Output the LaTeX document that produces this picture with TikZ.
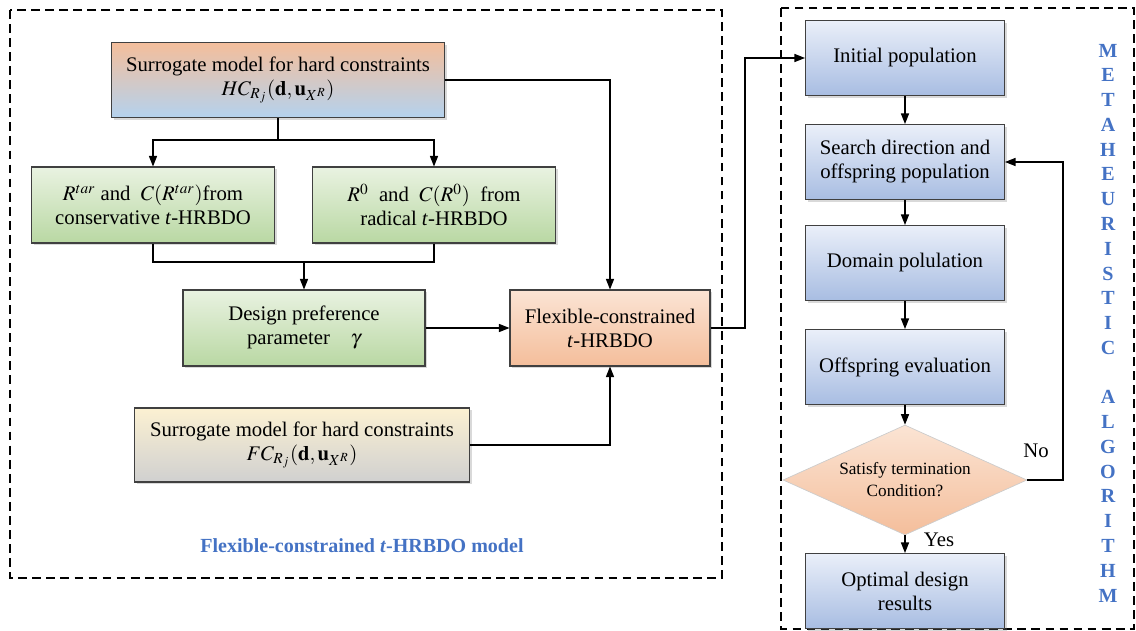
\documentclass[tikz,border=0pt]{standalone}
\usepackage{mathptmx}
\usepackage{fontspec}
\setmainfont{Liberation Serif}
\usepackage{tikz}
\usetikzlibrary{arrows.meta, positioning, calc, shapes.geometric, shadows}
\usepackage{xcolor}
\definecolor{metablue}{RGB}{68,114,196}
\definecolor{peach}{RGB}{244,190,155}
\definecolor{peachlight}{RGB}{251,228,212}
\definecolor{skyblue}{RGB}{180,210,238}
\definecolor{leaf}{RGB}{185,216,163}
\definecolor{leaflight}{RGB}{233,242,225}
\definecolor{steel}{RGB}{168,189,226}
\definecolor{steellight}{RGB}{234,239,249}
\definecolor{sand}{RGB}{252,241,210}
\definecolor{ash}{RGB}{208,208,208}

\tikzset{
  box/.style={draw=black!75, line width=0.6pt, align=center, inner sep=2pt,
    font=\fontsize{11.8}{13.7}\selectfont,
    drop shadow={shadow xshift=1.2pt, shadow yshift=-1.2pt, opacity=0.3}},
  hcbox/.style={box, top color=peach, bottom color=skyblue,
    minimum width=6.66cm, minimum height=1.5cm},
  greenbox/.style={box, top color=leaflight, bottom color=leaf,
    minimum width=4.86cm, minimum height=1.52cm},
  flexbox/.style={box, top color=peachlight, bottom color=peach,
    minimum width=4cm, minimum height=1.52cm},
  fcbox/.style={box, top color=sand, bottom color=ash,
    minimum width=6.7cm, minimum height=1.48cm},
  gabox/.style={box, top color=steellight, bottom color=steel,
    minimum width=3.98cm, minimum height=1.5cm},
  decision/.style={diamond, aspect=2.2, inner sep=0pt, draw=black!20,
    top color=peachlight, bottom color=peach, align=center,
    minimum width=4.88cm, minimum height=2.2cm,
    font=\fontsize{9.8}{12.5}\selectfont},
  arr/.style={-{Triangle[length=6pt,width=4.6pt]}, line width=0.7pt},
  link/.style={line width=0.7pt},
  frame/.style={line width=0.8pt, dash pattern=on 5pt off 3pt},
  bluetitle/.style={text=metablue, font=\bfseries\fontsize{11.4}{14.1}\selectfont, align=center},
}

\begin{document}
\begin{tikzpicture}[x=0.02cm, y=-0.02cm]
  \useasboundingbox (0,0) rectangle (1136,631);

  % Frames
  \draw[frame] (10,10) rectangle (722,578);
  \draw[frame] (781,8) rectangle (1134,629);

  % Flexible-constrained model
  \node[hcbox] (hc) at (278,80) {Surrogate model for hard constraints\\ $HC_{R_j}(\mathbf{d},\mathbf{u}_{X^R})$};
  \node[greenbox] (cons) at (153,205) {$R^{tar}$ and\ \ $C(R^{tar})$from\\ conservative \textit{t}-HRBDO};
  \node[greenbox] (rad) at (434,205) {$R^{0}$\ \ and\ \ $C(R^{0})$\ \ from\\ radical \textit{t}-HRBDO};
  \node[greenbox, minimum width=4.84cm] (pref) at (304,328) {Design preference\\ parameter\quad $\gamma$};
  \node[flexbox] (flex) at (610,328) {Flexible-constrained\\ \textit{t}-HRBDO};
  \node[fcbox] (fc) at (302,445) {Surrogate model for hard constraints\\ $FC_{R_j}(\mathbf{d},\mathbf{u}_{X^R})$};
  \node[bluetitle] (modeltitle) at (362,546) {Flexible-constrained \textit{t}-HRBDO model};

  \coordinate (hcsplit) at (278,140);
  \coordinate (merge) at (304,262);
  \draw[link] (hc.south) -- (hcsplit);
  \draw[arr] (hcsplit) -| (cons.north);
  \draw[arr] (hcsplit) -| (rad.north);
  \draw[link] (cons.south) |- (merge);
  \draw[link] (rad.south) |- (merge);
  \draw[arr] (merge) -- (pref.north);
  \draw[arr] (hc.east) -| (flex.north);
  \draw[arr] (pref.east) -- (flex.west);
  \draw[arr] (fc.east) -| (flex.south);

  % Metaheuristic loop
  \node[gabox] (init) at (905,58) {Initial population};
  \node[gabox] (search) at (905,162) {Search direction and\\ offspring population};
  \node[gabox] (domain) at (905,263) {Domain polulation};
  \node[gabox] (evalu) at (905,367) {Offspring evaluation};
  \node[decision] (cond) at (905,480) {Satisfy termination\\ Condition?};
  \node[gabox] (optim) at (905,591) {Optimal design\\ results};
  \node[bluetitle] (meta) at (1108,323) {M\\E\\T\\A\\H\\E\\U\\R\\I\\S\\T\\I\\C\\[14.1pt]A\\L\\G\\O\\R\\I\\T\\H\\M};

  \coordinate (bend) at (745,328);
  \coordinate (back) at (1063,480);
  \draw[arr] (flex.east) -- (bend) |- (init.west);
  \draw[arr] (init) -- (search);
  \draw[arr] (search) -- (domain);
  \draw[arr] (domain) -- (evalu);
  \draw[arr] (evalu) -- (cond);
  \draw[arr] (cond) -- (optim);
  \draw[arr] (cond.east) -- (back) |- (search.east);
  \node[font=\fontsize{11.8}{13.7}\selectfont] (no) at (1036,451) {No};
  \node[font=\fontsize{11.8}{13.7}\selectfont] (yes) at (939,540) {Yes};
\end{tikzpicture}
\end{document}
